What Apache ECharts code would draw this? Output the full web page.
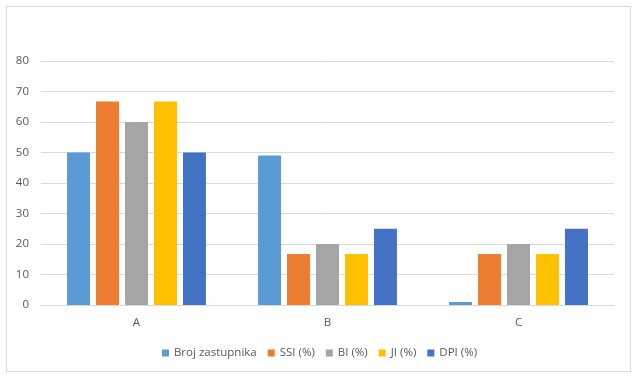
<!DOCTYPE html>
<html><head><meta charset="utf-8">
<script src="https://cdn.jsdelivr.net/npm/echarts@6/dist/echarts.min.js"></script>
<style>html,body{margin:0;padding:0;background:#fff}
#frame{position:absolute;left:6px;top:6px;width:625px;height:366px;border:1px solid #d9d9d9;box-sizing:border-box}
#c{position:absolute;left:0;top:0;width:639px;height:381px}</style>
</head><body><div id="frame"></div><div id="c"></div>
<script>
const categories = ['A', 'B', 'C'];
const seriesNames = ['Broj zastupnika', 'SSI (%)', 'BI (%)', 'JI (%)', 'DPI (%)'];
const brojZastupnika = [50, 49, 1];
const ssi = [66.7, 16.7, 16.7];
const bi = [60, 20, 20];
const ji = [66.7, 16.7, 16.7];
const dpi = [50, 25, 25];
const yTicks = [0, 10, 20, 30, 40, 50, 60, 70, 80];
const colors = ['#5b9bd5', '#ed7d31', '#a5a5a5', '#ffc000', '#4472c4'];
const values = [brojZastupnika, ssi, bi, ji, dpi];

const chart = echarts.init(document.getElementById('c'), null, {renderer: 'canvas'});
chart.setOption({
  animation: false,
  textStyle: {fontFamily: 'Open Sans, Liberation Sans, sans-serif'},
  grid: {left: 41, right: 25, top: 61, bottom: 76, containLabel: false},
  legend: {
    bottom: 17, left: 'center', itemWidth: 7, itemHeight: 7, itemGap: 11,
    icon: 'rect',
    textStyle: {color: '#595959', fontSize: 11.5},
    data: seriesNames
  },
  xAxis: {
    type: 'category', data: categories,
    axisLine: {lineStyle: {color: '#d9d9d9', width: 1}},
    axisTick: {show: false},
    axisLabel: {color: '#595959', fontSize: 11.5, margin: 12}
  },
  yAxis: {
    type: 'value', min: yTicks[0], max: yTicks[yTicks.length - 1], interval: 10,
    axisLine: {show: false}, axisTick: {show: false},
    axisLabel: {color: '#595959', fontSize: 11.5, margin: 12},
    splitLine: {lineStyle: {color: '#d9d9d9', width: 1}}
  },
  series: seriesNames.map((n, i) => ({
    name: n, type: 'bar', data: values[i], barWidth: 23, barGap: '26%',
    itemStyle: {color: colors[i]}
  }))
});
</script></body></html>
